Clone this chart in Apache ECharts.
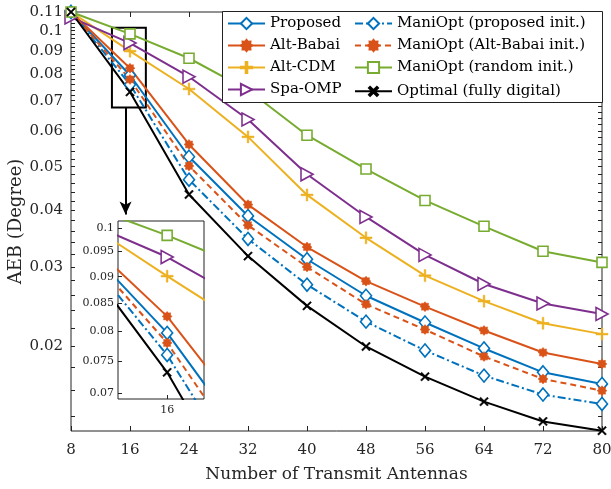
<!DOCTYPE html>
<html>
<head>
<meta charset="utf-8">
<script src="https://cdn.jsdelivr.net/npm/echarts@6/dist/echarts.min.js"></script>
<style>
  html, body { margin: 0; padding: 0; background: #fff; }
  #chart { width: 611px; height: 489px; }
</style>
</head>
<body>
<div id="chart"></div>
<script>
// Number of transmit antennas (x axis)
const antennas = [8, 16, 24, 32, 40, 48, 56, 64, 72, 80];

// AEB (degree) for each scheme
const proposed  = [0.110, 0.0797, 0.0526, 0.0389, 0.0312, 0.0259, 0.0226, 0.0198, 0.01753, 0.01652];
const altBabai  = [0.110, 0.0826, 0.0560, 0.0412, 0.0332, 0.0279, 0.0245, 0.0217, 0.0194, 0.0183];
const altCDM    = [0.110, 0.0901, 0.0743, 0.0582, 0.0433, 0.0348, 0.0287, 0.0252, 0.02252, 0.0213];
const spaOMP    = [0.107, 0.0939, 0.0791, 0.0636, 0.0481, 0.0387, 0.0319, 0.0275, 0.0249, 0.0236];
const maniProp  = [0.110, 0.0760, 0.0468, 0.0346, 0.0274, 0.0227, 0.0196, 0.01724, 0.01565, 0.01492];
const maniBabai = [0.110, 0.0780, 0.0502, 0.0371, 0.0300, 0.0248, 0.0218, 0.0190, 0.01695, 0.01597];
const maniRand  = [0.110, 0.0984, 0.0869, 0.0739, 0.0587, 0.0494, 0.0421, 0.0369, 0.0325, 0.0307];
const optimal   = [0.110, 0.0732, 0.0434, 0.0317, 0.0246, 0.0200, 0.01715, 0.0151, 0.01365, 0.01302];

// Tick labels
const xTicks = [8, 16, 24, 32, 40, 48, 56, 64, 72, 80];
const yTickLabels = [0.02, 0.03, 0.04, 0.05, 0.06, 0.07, 0.08, 0.09, 0.1, 0.11];
const insetXTicks = [16];
const insetYTickLabels = [0.07, 0.075, 0.08, 0.085, 0.09, 0.095, 0.1];

// zoomed window around 16 antennas
const zoomX = [13.2, 18.1];
const zoomY = [0.0691, 0.1015];
const zoomBox = [[13.55, 0.1015], [18.15, 0.0676]];
const arrowX = 15.4;
const arrowY = [0.0676, 0.0392];

// minor tick positions on the log axis (every 0.002)
const yTickMarks = [];
for (let k = 14; k <= 110; k += 2) yTickMarks.push(k / 1000);

const FONT = 'DejaVu Serif';
const TXT = '#262626';
const C = {
  blue: '#0072BD', orange: '#D95319', yellow: '#EDB120',
  purple: '#7E2F8E', green: '#77AC30', black: '#000000'
};

// marker shapes
function starPath(n, rOut, rIn) {
  let d = '';
  for (let i = 0; i < 2 * n; i++) {
    const r = i % 2 === 0 ? rOut : rIn;
    const a = Math.PI * i / n - Math.PI / 2;
    d += (i === 0 ? 'M' : 'L') + (r * Math.cos(a)).toFixed(3) + ',' + (r * Math.sin(a)).toFixed(3);
  }
  return 'path://' + d + 'Z';
}
const PLUS = 'path://M-1,-0.14L-0.14,-0.14L-0.14,-1L0.14,-1L0.14,-0.14L1,-0.14L1,0.14L0.14,0.14L0.14,1L-0.14,1L-0.14,0.14L-1,0.14Z';
const STAR = starPath(8, 1, 0.72);
const RTRI = 'path://M0,0L1,0.5L0,1Z';

const specs = [
  { name: 'Proposed', data: proposed, color: C.blue, type: 'solid', symbol: 'diamond', size: [11, 13], hollow: true },
  { name: 'Alt-Babai', data: altBabai, color: C.orange, type: 'solid', symbol: STAR, size: 10, hollow: false },
  { name: 'Alt-CDM', data: altCDM, color: C.yellow, type: 'solid', symbol: PLUS, size: 12, hollow: false },
  { name: 'Spa-OMP', data: spaOMP, color: C.purple, type: 'solid', symbol: RTRI, size: [12, 13], hollow: true },
  { name: 'ManiOpt (proposed init.)', data: maniProp, color: C.blue, type: [8, 3, 2, 3], symbol: 'diamond', size: [11, 13], hollow: true },
  { name: 'ManiOpt (Alt-Babai init.)', data: maniBabai, color: C.orange, type: [6, 4], symbol: STAR, size: 10, hollow: false },
  { name: 'ManiOpt (random init.)', data: maniRand, color: C.green, type: 'solid', symbol: 'rect', size: 10, hollow: true },
  { name: 'Optimal (fully digital)', data: optimal, color: C.black, type: 'solid', symbol: PLUS, size: 11, hollow: false, rotate: 45 }
];

function makeSeries(s, xIdx, yIdx, zlevel) {
  return {
    type: 'line',
    name: s.name,
    xAxisIndex: xIdx,
    yAxisIndex: yIdx,
    zlevel: zlevel,
    data: antennas.map((x, i) => [x, s.data[i]]),
    color: s.color,
    symbol: s.symbol,
    symbolSize: s.size,
    symbolRotate: s.rotate || 0,
    showAllSymbol: true,
    clip: true,
    animation: false,
    lineStyle: { color: s.color, width: 2, type: s.type },
    itemStyle: {
      color: s.hollow ? '#ffffff' : s.color,
      borderColor: s.color,
      borderWidth: s.hollow ? 1.6 : 0.5
    },
    emphasis: { disabled: true }
  };
}

const fmt = v => String(parseFloat(Number(v).toPrecision(4)));

const series = [];
specs.forEach(s => series.push(makeSeries(s, 0, 0, 0)));
specs.forEach(s => series.push(makeSeries(s, 2, 3, 1)));

// zoom rectangle and arrow pointing down to the inset
series.push({
  type: 'line',
  name: '__zoom',
  xAxisIndex: 0,
  yAxisIndex: 0,
  data: [],
  silent: true,
  animation: false,
  markArea: {
    silent: true,
    itemStyle: { color: 'rgba(0,0,0,0)', borderColor: '#000', borderWidth: 2 },
    data: [[{ coord: zoomBox[0] }, { coord: zoomBox[1] }]]
  },
  markLine: {
    silent: true,
    symbol: ['none', 'arrow'],
    symbolSize: 12,
    label: { show: false },
    lineStyle: { color: '#000', width: 2, type: 'solid' },
    data: [[
      { coord: [arrowX, arrowY[0]], symbol: 'none' },
      { coord: [arrowX, arrowY[1]], symbol: 'arrow', symbolSize: [9, 13], itemStyle: { color: '#000' } }
    ]]
  }
});

const legendCommon = {
  orient: 'vertical',
  top: 16,
  padding: 0,
  itemWidth: 37,
  itemHeight: 14,
  itemGap: 7,
  z: 6,
  selectedMode: false,
  textStyle: { fontFamily: FONT, fontSize: 15, color: '#000' }
};

const option = {
  backgroundColor: '#fff',
  animation: false,
  textStyle: { fontFamily: FONT },
  grid: [
    { left: 71, right: 9, top: 12, bottom: 58, containLabel: false, outerBoundsMode: 'none',
      show: true, borderColor: '#222', borderWidth: 1, backgroundColor: '#fff' },
    { left: 118, top: 221, width: 86, height: 178, containLabel: false, outerBoundsMode: 'none',
      show: true, borderColor: '#222', borderWidth: 1, backgroundColor: '#fff', zlevel: 1 }
  ],
  xAxis: [
    {
      gridIndex: 0, type: 'value', min: 8, max: 80, interval: 8, position: 'bottom',
      name: 'Number of Transmit Antennas', nameLocation: 'middle', nameGap: 35,
      nameTextStyle: { fontFamily: FONT, fontSize: 17, color: TXT },
      axisLine: { show: false },
      axisTick: { inside: true, length: 5, lineStyle: { color: '#222' }, customValues: xTicks },
      axisLabel: { fontFamily: FONT, fontSize: 15, color: TXT, margin: 12, customValues: xTicks },
      splitLine: { show: false }
    },
    {
      gridIndex: 0, type: 'value', min: 8, max: 80, interval: 8, position: 'top',
      axisLine: { show: false },
      axisTick: { inside: true, length: 5, lineStyle: { color: '#222' }, customValues: xTicks },
      axisLabel: { show: false },
      splitLine: { show: false }
    },
    {
      gridIndex: 1, type: 'value', min: zoomX[0], max: zoomX[1], zlevel: 1,
      axisLine: { show: false },
      axisTick: { inside: true, length: 4, lineStyle: { color: '#222' }, customValues: insetXTicks },
      axisLabel: { fontFamily: FONT, fontSize: 11, color: TXT, margin: 6, customValues: insetXTicks },
      splitLine: { show: false }
    }
  ],
  yAxis: [
    {
      gridIndex: 0, type: 'log', logBase: 10, min: 0.013, max: 0.11, position: 'left',
      name: 'AEB (Degree)', nameLocation: 'middle', nameGap: 46, nameRotate: 90,
      nameMoveOverlap: false,
      nameTextStyle: { fontFamily: FONT, fontSize: 18, color: TXT },
      axisLine: { show: false },
      axisTick: { inside: true, length: 4, lineStyle: { color: '#222' }, customValues: yTickMarks },
      axisLabel: { fontFamily: FONT, fontSize: 15, color: TXT, margin: 8, customValues: yTickLabels, formatter: fmt },
      splitLine: { show: false }
    },
    {
      gridIndex: 0, type: 'log', logBase: 10, min: 0.013, max: 0.11, position: 'right',
      axisLine: { show: false },
      axisTick: { inside: true, length: 4, lineStyle: { color: '#222' }, customValues: yTickMarks },
      axisLabel: { show: false },
      splitLine: { show: false }
    },
    { gridIndex: 0, type: 'log', show: false, min: 0.013, max: 0.11 },
    {
      gridIndex: 1, type: 'log', logBase: 10, min: zoomY[0], max: zoomY[1], zlevel: 1,
      axisLine: { show: false },
      axisTick: { inside: true, length: 4, lineStyle: { color: '#222' }, customValues: insetYTickLabels },
      axisLabel: { fontFamily: FONT, fontSize: 11, color: TXT, margin: 4, customValues: insetYTickLabels, formatter: fmt },
      splitLine: { show: false }
    }
  ],
  legend: [
    Object.assign({}, legendCommon, { left: 227, data: specs.slice(0, 4).map(s => s.name) }),
    Object.assign({}, legendCommon, { left: 354, data: specs.slice(4).map(s => s.name) })
  ],
  graphic: [{
    type: 'rect', z: 4, silent: true,
    shape: { x: 222.5, y: 11.5, width: 380, height: 91 },
    style: { fill: '#fff', stroke: '#222', lineWidth: 1 }
  }],
  series: series
};

const chart = echarts.init(document.getElementById('chart'), null, { renderer: 'canvas' });
chart.setOption(option);
</script>
</body>
</html>
